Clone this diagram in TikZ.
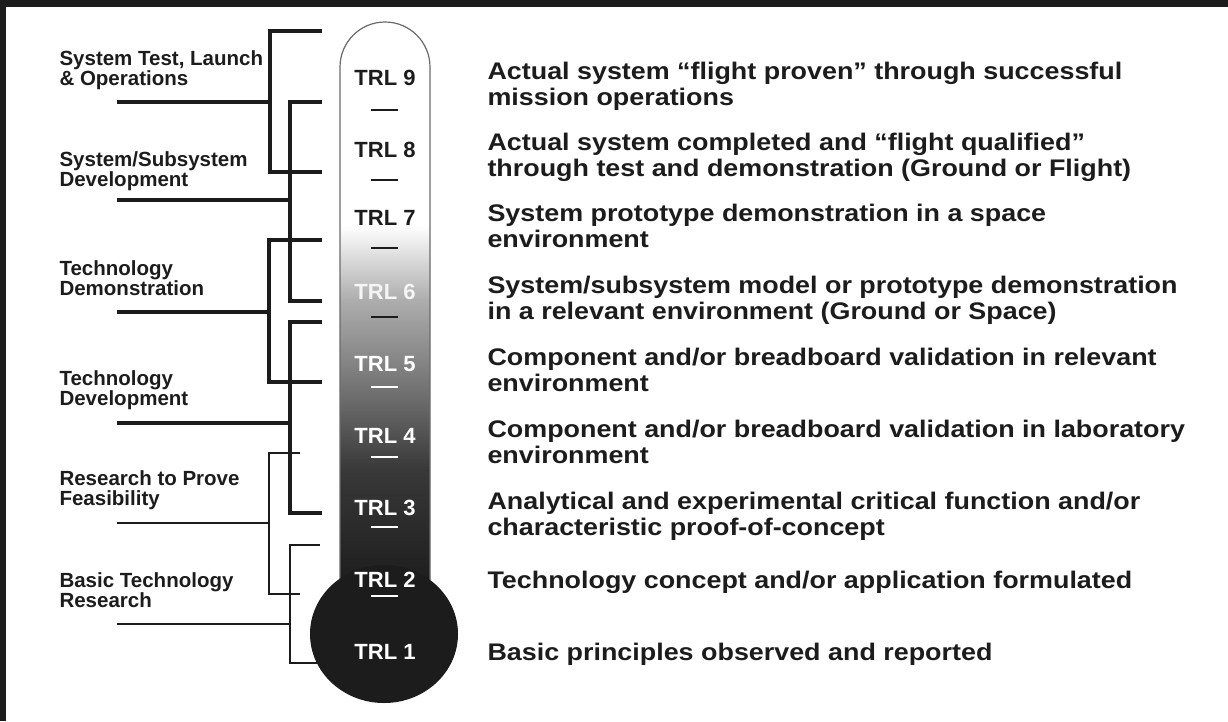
\documentclass[tikz,border=0pt]{standalone}
\usepackage{fontspec}
\setmainfont{Liberation Sans}
\newfontfamily\descfont[FakeStretch=1.12]{Liberation Sans}
\definecolor{inkgray}{HTML}{1C1C1C}
\definecolor{tubeline}{HTML}{6A6A6A}

\begin{document}
\begin{tikzpicture}[
                x=1pt,y=-1pt,
                grp/.style={align=left,anchor=base west,text=inkgray,font=\bfseries\fontsize{20.5}{20}\selectfont},
                desc/.style={align=left,anchor=base west,text=inkgray,font=\descfont\bfseries\fontsize{24}{26}\selectfont},
                trl/.style={font=\bfseries\fontsize{22}{22}\selectfont},
                bracket/.style={draw=inkgray,line width=3.2pt},
                thinbracket/.style={draw=inkgray,line width=2.2pt},
                trlsep/.style={line width=1.4pt}] %

                    \useasboundingbox (0,0) rectangle (1228,721);
                    \fill[white] (0,0) rectangle (1228,721);
                    \fill[inkgray] (0,0) rectangle (1228,7);
                    \fill[inkgray] (0,0) rectangle (6,721);

                    % brackets
                    \draw[bracket] (322,31) -- (270,31) -- (270,172) -- (322,172);
                    \draw[bracket] (117,102) -- (270,102);
                    \draw[bracket] (322,102) -- (290,102) -- (290,301) -- (322,301);
                    \draw[bracket] (117,200) -- (290,200);
                    \draw[bracket] (322,240) -- (269,240) -- (269,382) -- (322,382);
                    \draw[bracket] (117,312) -- (269,312);
                    \draw[bracket] (322,322) -- (290,322) -- (290,513) -- (322,513);
                    \draw[bracket] (117,423) -- (290,423);
                    \draw[thinbracket] (300,453) -- (269,453) -- (269,594) -- (300,594);
                    \draw[thinbracket] (117,523) -- (269,523);
                    \draw[thinbracket] (320,545) -- (290,545) -- (290,663) -- (330,663);
                    \draw[thinbracket] (117,624) -- (290,624);

                    % thermometer
                    \fill[white] (340,580) -- (340,67) arc[start angle=180,end angle=360,radius=45] -- (430,580) -- cycle;
                    \begin{scope}
                    \clip (340,580) -- (340,67) arc[start angle=180,end angle=360,radius=45] -- (430,580) -- cycle;
                    \shade[top color=white,bottom color=black!32] (330,225) rectangle (440,300);
                    \shade[top color=black!32,bottom color=black!58] (330,300) rectangle (440,400);
                    \shade[top color=black!58,bottom color=black!78] (330,400) rectangle (440,470);
                    \shade[top color=black!78,bottom color=black!90] (330,470) rectangle (440,600);
                    \end{scope}
                    \draw[tubeline,line width=1.2pt] (340,580) -- (340,67) arc[start angle=180,end angle=360,radius=45] -- (430,580);
                    \fill[inkgray] (384,634) ellipse[x radius=74,y radius=69];

                    % levels
                    \node[trl,text=inkgray] (trl9) at (385,78) {TRL 9}; % 9
                    \node[trl,text=inkgray] (trl8) at (385,150) {TRL 8}; % 8
                    \node[trl,text=inkgray] (trl7) at (385,218) {TRL 7}; % 7
                    \node[trl,text=white!92!gray] (trl6) at (385,292) {TRL 6}; % 6
                    \node[trl,text=white] (trl5) at (385,364) {TRL 5}; % 5
                    \node[trl,text=white] (trl4) at (385,436) {TRL 4}; % 4
                    \node[trl,text=white] (trl3) at (385,508) {TRL 3}; % 3
                    \node[trl,text=white] (trl2) at (385,580) {TRL 2}; % 2
                    \node[trl,text=white] (trl1) at (385,652) {TRL 1}; % 1

                    \foreach \y/\c in {110/inkgray,180/inkgray,248/inkgray,317/inkgray,387/white,457/white,527/white,596/white}
                        \draw[trlsep,draw=\c] (371,\y) -- (398,\y);

                    % groups
                    \node[grp] (grpA) at (56,85) {System Test, Launch\\\& Operations};
                    \node[grp] (grpB) at (56,186) {System/Subsystem\\Development};
                    \node[grp] (grpC) at (56,295) {Technology\\Demonstration};
                    \node[grp] (grpD) at (56,405) {Technology\\Development};
                    \node[grp] (grpE) at (56,505) {Research to Prove\\Feasibility};
                    \node[grp] (grpF) at (56,607) {Basic Technology\\Research};

                    % descriptions
                    \node[desc] (desc9) at (484,105) {Actual system “flight proven” through successful\\mission operations};
                    \node[desc] (desc8) at (484,176) {Actual system completed and “flight qualified”\\through test and demonstration (Ground or Flight)};
                    \node[desc] (desc7) at (484,247) {System prototype demonstration in a space\\environment};
                    \node[desc] (desc6) at (484,319) {System/subsystem model or prototype demonstration\\in a relevant environment (Ground or Space)};
                    \node[desc] (desc5) at (484,391) {Component and/or breadboard validation in relevant\\environment};
                    \node[desc] (desc4) at (484,463) {Component and/or breadboard validation in laboratory\\environment};
                    \node[desc] (desc3) at (484,535) {Analytical and experimental critical function and/or\\characteristic proof-of-concept};
                    \node[desc] (desc2) at (484,588) {Technology concept and/or application formulated};
                    \node[desc] (desc1) at (484,660) {Basic principles observed and reported};

                    \end{tikzpicture}
\end{document}
